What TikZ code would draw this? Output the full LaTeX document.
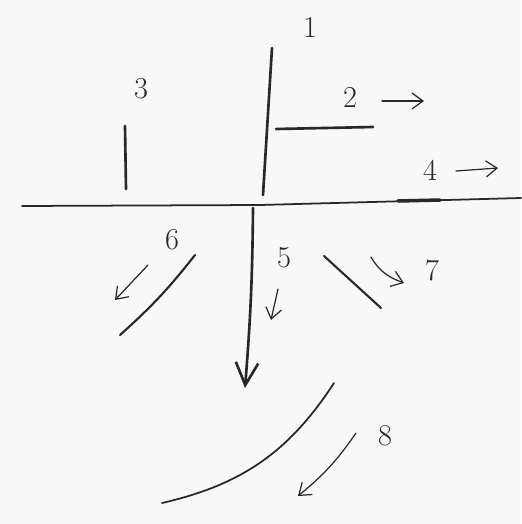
\documentclass[tikz,border=0pt]{standalone}
\usepackage{tikz}
\usetikzlibrary{arrows.meta}
\definecolor{paper}{RGB}{248,248,248}
\definecolor{pencil}{RGB}{40,40,40}

\begin{document}
\begin{tikzpicture}[x=0.02cm, y=-0.02cm, >={Straight Barb[length=2.2mm, width=3.2mm]},
    stroke/.style={draw=pencil, line width=1.5pt, line cap=round},
    hint/.style={draw=pencil, line width=0.7pt, line cap=round, ->},
    num/.style={text=pencil, font=\LARGE}]
  \fill[paper] (0,0) rectangle (521,524);
  \useasboundingbox (0,0) rectangle (521,524);
  % ground line
  \draw[stroke, line width=1pt] (22,206) -- (260,205) -- (521,198);
  \draw[stroke, line width=2pt] (398,201) -- (440,200);
  % strokes above
  \draw[stroke] (272,48) -- (263,195);
  \draw[stroke] (276,129) -- (373,127);
  \draw[stroke] (125,126) -- (126,189);
  % strokes below
  \draw[stroke, ->, >={Straight Barb[length=4.5mm, width=4.5mm]}] (253,208) to[bend left=2] (245,388);
  \draw[stroke, line width=1.2pt] (195,255) to[bend left=5] (120,335);
  \draw[stroke, line width=1.2pt] (324,256) -- (381,308);
  \draw[stroke, line width=1pt] (334,383) to[bend left=22] (162,503);
  % labels
  \node[num] (one) at (310,27) {1};
  \node[num] (two) at (350,97) {2};
  \node[num] (three) at (141,89) {3};
  \node[num] (four) at (430,170) {4};
  \node[num] (five) at (284,258) {5};
  \node[num] (six) at (172,240) {6};
  \node[num] (seven) at (432,270) {7};
  \node[num] (eight) at (385,436) {8};
  % small arrows
  \coordinate (twoA) at (382,101); \coordinate (twoB) at (424,101);
  \coordinate (fourA) at (456,171); \coordinate (fourB) at (498,168);
  \coordinate (fiveA) at (278,289); \coordinate (fiveB) at (271,320);
  \coordinate (sixA) at (148,265); \coordinate (sixB) at (115,300);
  \coordinate (sevenA) at (371,257); \coordinate (sevenB) at (404,283);
  \coordinate (eightA) at (356,433); \coordinate (eightB) at (298,496);
  \draw[hint] (twoA) -- (twoB);
  \draw[hint] (fourA) -- (fourB);
  \draw[hint] (fiveA) -- (fiveB);
  \draw[hint] (sixA) -- (sixB);
  \draw[hint] (sevenA) to[out=-60, in=160] (sevenB);
  \draw[hint] (eightA) to[bend left=8] (eightB);
\end{tikzpicture}
\end{document}
